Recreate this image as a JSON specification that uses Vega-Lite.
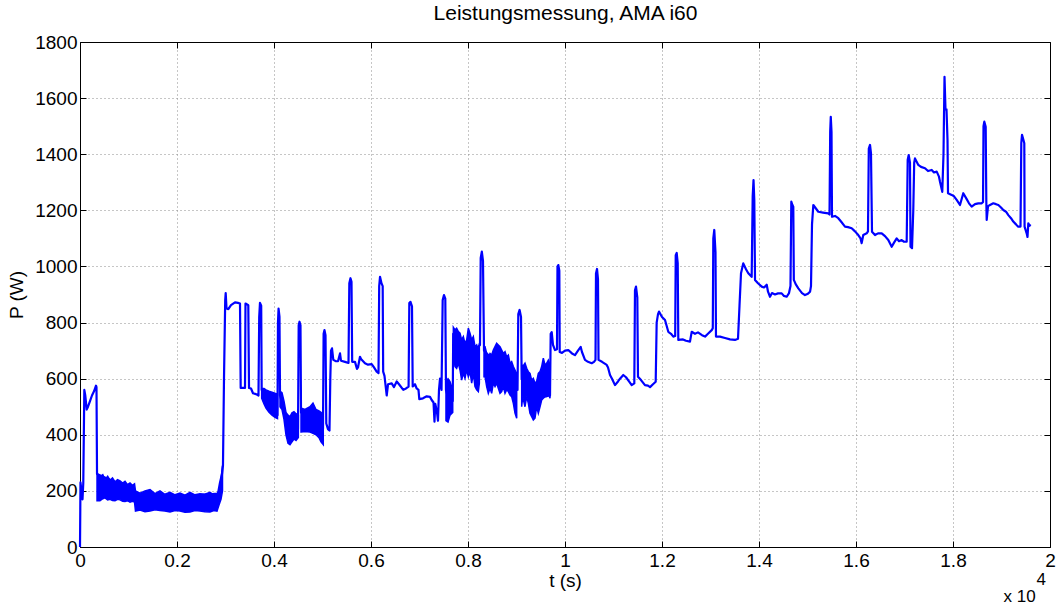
{
  "$schema": "https://vega.github.io/schema/vega-lite/v6.json",
  "width": 970,
  "height": 505,
  "autosize": "none",
  "padding": {"left": 80, "top": 42, "right": 8, "bottom": 59},
  "background": "white",
  "config": {
    "font": "Liberation Sans",
    "view": {"stroke": null},
    "axis": {
      "labelFont": "Liberation Sans",
      "titleFont": "Liberation Sans",
      "labelFontSize": 19,
      "titleFontSize": 19,
      "titleFontWeight": "normal",
      "labelColor": "black",
      "titleColor": "black",
      "domainColor": "black",
      "domainWidth": 1,
      "tickColor": "black",
      "tickWidth": 1,
      "tickSize": -6,
      "gridColor": "#8c8c8c",
      "gridDash": [1, 3],
      "gridWidth": 1,
      "gridOpacity": 1
    }
  },
  "datasets": {
    "bands": [
      {"seg": "b1", "t": 351, "lo": 165, "hi": 265},
      {"seg": "b1", "t": 412, "lo": 165, "hi": 250},
      {"seg": "b1", "t": 470, "lo": 172, "hi": 258},
      {"seg": "b1", "t": 515, "lo": 175, "hi": 240},
      {"seg": "b1", "t": 570, "lo": 168, "hi": 252},
      {"seg": "b1", "t": 619, "lo": 170, "hi": 238},
      {"seg": "b1", "t": 670, "lo": 166, "hi": 246},
      {"seg": "b1", "t": 722, "lo": 165, "hi": 232},
      {"seg": "b1", "t": 775, "lo": 170, "hi": 240},
      {"seg": "b1", "t": 825, "lo": 168, "hi": 236},
      {"seg": "b1", "t": 880, "lo": 163, "hi": 228},
      {"seg": "b1", "t": 928, "lo": 162, "hi": 234},
      {"seg": "b1", "t": 980, "lo": 165, "hi": 222},
      {"seg": "b1", "t": 1031, "lo": 160, "hi": 228},
      {"seg": "b1", "t": 1080, "lo": 163, "hi": 220},
      {"seg": "b1", "t": 1124, "lo": 160, "hi": 225},
      {"seg": "b1", "t": 1144, "lo": 128, "hi": 200},
      {"seg": "b1", "t": 1237, "lo": 132, "hi": 192},
      {"seg": "b1", "t": 1340, "lo": 126, "hi": 200},
      {"seg": "b1", "t": 1443, "lo": 128, "hi": 205},
      {"seg": "b1", "t": 1545, "lo": 133, "hi": 190},
      {"seg": "b1", "t": 1649, "lo": 130, "hi": 200},
      {"seg": "b1", "t": 1750, "lo": 128, "hi": 188},
      {"seg": "b1", "t": 1856, "lo": 125, "hi": 195},
      {"seg": "b1", "t": 1960, "lo": 130, "hi": 186},
      {"seg": "b1", "t": 2062, "lo": 128, "hi": 192},
      {"seg": "b1", "t": 2165, "lo": 124, "hi": 185},
      {"seg": "b1", "t": 2268, "lo": 125, "hi": 195},
      {"seg": "b1", "t": 2370, "lo": 130, "hi": 186},
      {"seg": "b1", "t": 2474, "lo": 128, "hi": 190},
      {"seg": "b1", "t": 2575, "lo": 126, "hi": 188},
      {"seg": "b1", "t": 2680, "lo": 125, "hi": 195},
      {"seg": "b1", "t": 2760, "lo": 130, "hi": 186},
      {"seg": "b1", "t": 2825, "lo": 128, "hi": 190},
      {"seg": "b1", "t": 2866, "lo": 150, "hi": 200},
      {"seg": "b1", "t": 2907, "lo": 170, "hi": 240},
      {"seg": "b1", "t": 2938, "lo": 200, "hi": 290},
      {"seg": "b2", "t": 3746, "lo": 530, "hi": 565},
      {"seg": "b2", "t": 3794, "lo": 510, "hi": 565},
      {"seg": "b2", "t": 3835, "lo": 495, "hi": 560},
      {"seg": "b2", "t": 3897, "lo": 480, "hi": 555},
      {"seg": "b2", "t": 3959, "lo": 470, "hi": 552},
      {"seg": "b2", "t": 4021, "lo": 462, "hi": 548},
      {"seg": "b2", "t": 4072, "lo": 458, "hi": 545},
      {"seg": "b3", "t": 4124, "lo": 500, "hi": 555},
      {"seg": "b3", "t": 4165, "lo": 490, "hi": 550},
      {"seg": "b3", "t": 4206, "lo": 455, "hi": 520},
      {"seg": "b3", "t": 4247, "lo": 400, "hi": 480},
      {"seg": "b3", "t": 4289, "lo": 370, "hi": 470},
      {"seg": "b3", "t": 4330, "lo": 365, "hi": 465},
      {"seg": "b3", "t": 4371, "lo": 375, "hi": 478},
      {"seg": "b3", "t": 4412, "lo": 385, "hi": 482},
      {"seg": "b3", "t": 4454, "lo": 380, "hi": 475},
      {"seg": "b3", "t": 4502, "lo": 390, "hi": 470},
      {"seg": "b4", "t": 4557, "lo": 410, "hi": 495},
      {"seg": "b4", "t": 4639, "lo": 412, "hi": 490},
      {"seg": "b4", "t": 4742, "lo": 410, "hi": 500},
      {"seg": "b4", "t": 4804, "lo": 405, "hi": 513},
      {"seg": "b4", "t": 4866, "lo": 400, "hi": 490},
      {"seg": "b4", "t": 4928, "lo": 390, "hi": 485},
      {"seg": "b4", "t": 4969, "lo": 375, "hi": 480},
      {"seg": "b4", "t": 5016, "lo": 365, "hi": 470},
      {"seg": "b5", "t": 7546, "lo": 450, "hi": 590},
      {"seg": "b5", "t": 7588, "lo": 445, "hi": 600},
      {"seg": "b5", "t": 7629, "lo": 470, "hi": 590},
      {"seg": "b5", "t": 7685, "lo": 480, "hi": 560},
      {"seg": "b6", "t": 7698, "lo": 690, "hi": 783},
      {"seg": "b6", "t": 7732, "lo": 643, "hi": 774},
      {"seg": "b6", "t": 7766, "lo": 637, "hi": 780},
      {"seg": "b6", "t": 7801, "lo": 655, "hi": 768},
      {"seg": "b6", "t": 7835, "lo": 631, "hi": 762},
      {"seg": "b6", "t": 7869, "lo": 595, "hi": 738},
      {"seg": "b6", "t": 7904, "lo": 619, "hi": 750},
      {"seg": "b6", "t": 7938, "lo": 601, "hi": 726},
      {"seg": "b6", "t": 7973, "lo": 631, "hi": 738},
      {"seg": "b6", "t": 8007, "lo": 607, "hi": 780},
      {"seg": "b6", "t": 8041, "lo": 625, "hi": 762},
      {"seg": "b6", "t": 8076, "lo": 584, "hi": 738},
      {"seg": "b6", "t": 8110, "lo": 619, "hi": 750},
      {"seg": "b6", "t": 8144, "lo": 572, "hi": 714},
      {"seg": "b6", "t": 8179, "lo": 560, "hi": 720},
      {"seg": "b6", "t": 8213, "lo": 554, "hi": 702},
      {"seg": "b6", "t": 8234, "lo": 584, "hi": 726},
      {"seg": "b7", "t": 8330, "lo": 607, "hi": 714},
      {"seg": "b7", "t": 8351, "lo": 607, "hi": 714},
      {"seg": "b7", "t": 8385, "lo": 572, "hi": 690},
      {"seg": "b7", "t": 8419, "lo": 548, "hi": 678},
      {"seg": "b7", "t": 8454, "lo": 566, "hi": 690},
      {"seg": "b7", "t": 8488, "lo": 548, "hi": 684},
      {"seg": "b7", "t": 8522, "lo": 584, "hi": 702},
      {"seg": "b7", "t": 8557, "lo": 572, "hi": 714},
      {"seg": "b7", "t": 8591, "lo": 584, "hi": 726},
      {"seg": "b7", "t": 8625, "lo": 566, "hi": 720},
      {"seg": "b7", "t": 8660, "lo": 548, "hi": 714},
      {"seg": "b7", "t": 8694, "lo": 554, "hi": 702},
      {"seg": "b7", "t": 8728, "lo": 572, "hi": 690},
      {"seg": "b7", "t": 8763, "lo": 548, "hi": 696},
      {"seg": "b7", "t": 8797, "lo": 560, "hi": 678},
      {"seg": "b7", "t": 8832, "lo": 554, "hi": 684},
      {"seg": "b7", "t": 8866, "lo": 542, "hi": 655},
      {"seg": "b7", "t": 8900, "lo": 536, "hi": 661},
      {"seg": "b7", "t": 8935, "lo": 512, "hi": 643},
      {"seg": "b7", "t": 8969, "lo": 477, "hi": 631},
      {"seg": "b7", "t": 9004, "lo": 459, "hi": 619},
      {"seg": "b8", "t": 9107, "lo": 500, "hi": 650},
      {"seg": "b8", "t": 9127, "lo": 536, "hi": 643},
      {"seg": "b8", "t": 9175, "lo": 500, "hi": 655},
      {"seg": "b8", "t": 9210, "lo": 536, "hi": 637},
      {"seg": "b8", "t": 9244, "lo": 512, "hi": 625},
      {"seg": "b8", "t": 9278, "lo": 477, "hi": 619},
      {"seg": "b8", "t": 9313, "lo": 465, "hi": 595},
      {"seg": "b8", "t": 9347, "lo": 453, "hi": 601},
      {"seg": "b8", "t": 9381, "lo": 459, "hi": 584},
      {"seg": "b8", "t": 9416, "lo": 500, "hi": 590},
      {"seg": "b8", "t": 9450, "lo": 477, "hi": 619},
      {"seg": "b8", "t": 9485, "lo": 500, "hi": 625},
      {"seg": "b8", "t": 9519, "lo": 524, "hi": 643},
      {"seg": "b8", "t": 9553, "lo": 530, "hi": 673},
      {"seg": "b8", "t": 9588, "lo": 536, "hi": 649},
      {"seg": "b8", "t": 9622, "lo": 536, "hi": 655},
      {"seg": "b8", "t": 9656, "lo": 548, "hi": 666},
      {"seg": "b8", "t": 9691, "lo": 530, "hi": 649}
    ],
    "trace": [
      {"t": 0, "P": 0}, {"t": 10, "P": 230}, {"t": 31, "P": 200}, {"t": 52, "P": 170},
      {"t": 68, "P": 230}, {"t": 89, "P": 560}, {"t": 109, "P": 540}, {"t": 138, "P": 490},
      {"t": 165, "P": 500}, {"t": 206, "P": 520}, {"t": 247, "P": 540}, {"t": 289, "P": 555},
      {"t": 330, "P": 575}, {"t": 340, "P": 570}, {"t": 351, "P": 260}, {"t": 1134, "P": 200},
      {"t": 1155, "P": 165}, {"t": 2845, "P": 190}, {"t": 2887, "P": 230}, {"t": 2928, "P": 260},
      {"t": 2948, "P": 290}, {"t": 2969, "P": 600}, {"t": 2994, "P": 880}, {"t": 3004, "P": 905},
      {"t": 3021, "P": 850}, {"t": 3058, "P": 848}, {"t": 3113, "P": 862}, {"t": 3196, "P": 872},
      {"t": 3258, "P": 870}, {"t": 3299, "P": 868}, {"t": 3313, "P": 567}, {"t": 3402, "P": 567},
      {"t": 3412, "P": 868}, {"t": 3470, "P": 862}, {"t": 3485, "P": 567}, {"t": 3526, "P": 565},
      {"t": 3567, "P": 548}, {"t": 3629, "P": 545}, {"t": 3680, "P": 540}, {"t": 3695, "P": 820},
      {"t": 3711, "P": 870}, {"t": 3736, "P": 860}, {"t": 3746, "P": 560}, {"t": 3897, "P": 520},
      {"t": 4072, "P": 470}, {"t": 4082, "P": 800}, {"t": 4094, "P": 850}, {"t": 4113, "P": 820},
      {"t": 4124, "P": 540}, {"t": 4309, "P": 420}, {"t": 4495, "P": 420}, {"t": 4509, "P": 790},
      {"t": 4526, "P": 803}, {"t": 4546, "P": 790}, {"t": 4557, "P": 480}, {"t": 4784, "P": 450},
      {"t": 5010, "P": 420}, {"t": 5023, "P": 760}, {"t": 5041, "P": 773}, {"t": 5062, "P": 755},
      {"t": 5078, "P": 440}, {"t": 5113, "P": 420}, {"t": 5144, "P": 415}, {"t": 5161, "P": 600},
      {"t": 5175, "P": 700}, {"t": 5196, "P": 708}, {"t": 5223, "P": 667}, {"t": 5278, "P": 662},
      {"t": 5320, "P": 662}, {"t": 5361, "P": 690}, {"t": 5381, "P": 664}, {"t": 5464, "P": 660},
      {"t": 5536, "P": 656}, {"t": 5553, "P": 940}, {"t": 5577, "P": 958}, {"t": 5598, "P": 945},
      {"t": 5612, "P": 660}, {"t": 5670, "P": 660}, {"t": 5711, "P": 635}, {"t": 5732, "P": 640},
      {"t": 5773, "P": 678}, {"t": 5794, "P": 670}, {"t": 5876, "P": 655}, {"t": 5938, "P": 650},
      {"t": 6014, "P": 652}, {"t": 6062, "P": 640}, {"t": 6117, "P": 625}, {"t": 6155, "P": 620},
      {"t": 6169, "P": 930}, {"t": 6186, "P": 963}, {"t": 6216, "P": 940}, {"t": 6241, "P": 930},
      {"t": 6251, "P": 625}, {"t": 6278, "P": 610}, {"t": 6324, "P": 540}, {"t": 6351, "P": 580},
      {"t": 6427, "P": 583}, {"t": 6474, "P": 570}, {"t": 6530, "P": 590}, {"t": 6577, "P": 580},
      {"t": 6666, "P": 560}, {"t": 6722, "P": 565}, {"t": 6775, "P": 572}, {"t": 6790, "P": 870},
      {"t": 6814, "P": 874}, {"t": 6845, "P": 858}, {"t": 6860, "P": 572}, {"t": 6907, "P": 580},
      {"t": 6942, "P": 565}, {"t": 6979, "P": 560}, {"t": 6996, "P": 527}, {"t": 7072, "P": 530},
      {"t": 7148, "P": 537}, {"t": 7216, "P": 535}, {"t": 7251, "P": 524}, {"t": 7289, "P": 515},
      {"t": 7309, "P": 447}, {"t": 7326, "P": 510}, {"t": 7361, "P": 480}, {"t": 7381, "P": 450},
      {"t": 7402, "P": 560}, {"t": 7423, "P": 600}, {"t": 7454, "P": 560}, {"t": 7478, "P": 880},
      {"t": 7505, "P": 898}, {"t": 7532, "P": 885}, {"t": 7546, "P": 560}, {"t": 7608, "P": 520},
      {"t": 7685, "P": 520}, {"t": 7695, "P": 760}, {"t": 7959, "P": 670}, {"t": 8247, "P": 720},
      {"t": 8262, "P": 1030}, {"t": 8285, "P": 1053}, {"t": 8309, "P": 1020}, {"t": 8330, "P": 700},
      {"t": 8660, "P": 640}, {"t": 9021, "P": 560}, {"t": 9037, "P": 830}, {"t": 9064, "P": 845},
      {"t": 9093, "P": 820}, {"t": 9107, "P": 600}, {"t": 9381, "P": 530}, {"t": 9691, "P": 540},
      {"t": 9705, "P": 760}, {"t": 9726, "P": 766}, {"t": 9753, "P": 720}, {"t": 9794, "P": 702},
      {"t": 9835, "P": 705}, {"t": 9845, "P": 1000}, {"t": 9862, "P": 1005}, {"t": 9883, "P": 985},
      {"t": 9891, "P": 695}, {"t": 9938, "P": 692}, {"t": 10000, "P": 700}, {"t": 10068, "P": 702},
      {"t": 10144, "P": 690}, {"t": 10206, "P": 684}, {"t": 10268, "P": 700}, {"t": 10324, "P": 713},
      {"t": 10350, "P": 695}, {"t": 10412, "P": 667}, {"t": 10474, "P": 660}, {"t": 10550, "P": 655},
      {"t": 10598, "P": 660}, {"t": 10629, "P": 667}, {"t": 10639, "P": 975}, {"t": 10660, "P": 991},
      {"t": 10680, "P": 955}, {"t": 10691, "P": 667}, {"t": 10763, "P": 660}, {"t": 10860, "P": 649},
      {"t": 10887, "P": 640}, {"t": 10928, "P": 613}, {"t": 10969, "P": 600}, {"t": 11031, "P": 577},
      {"t": 11093, "P": 590}, {"t": 11134, "P": 600}, {"t": 11202, "P": 613}, {"t": 11258, "P": 605},
      {"t": 11320, "P": 590}, {"t": 11375, "P": 577}, {"t": 11429, "P": 583}, {"t": 11443, "P": 915},
      {"t": 11464, "P": 928}, {"t": 11491, "P": 890}, {"t": 11505, "P": 607}, {"t": 11567, "P": 595},
      {"t": 11649, "P": 577}, {"t": 11711, "P": 575}, {"t": 11753, "P": 570}, {"t": 11814, "P": 580},
      {"t": 11870, "P": 589}, {"t": 11890, "P": 800}, {"t": 11918, "P": 830}, {"t": 11938, "P": 839},
      {"t": 12000, "P": 820}, {"t": 12062, "P": 809}, {"t": 12130, "P": 767}, {"t": 12186, "P": 760},
      {"t": 12233, "P": 750}, {"t": 12272, "P": 752}, {"t": 12283, "P": 1040}, {"t": 12303, "P": 1048},
      {"t": 12324, "P": 1012}, {"t": 12336, "P": 738}, {"t": 12433, "P": 740}, {"t": 12495, "P": 735},
      {"t": 12577, "P": 732}, {"t": 12612, "P": 767}, {"t": 12680, "P": 760}, {"t": 12742, "P": 765},
      {"t": 12825, "P": 755}, {"t": 12887, "P": 750}, {"t": 12948, "P": 760}, {"t": 13025, "P": 773},
      {"t": 13047, "P": 780}, {"t": 13058, "P": 1100}, {"t": 13078, "P": 1130}, {"t": 13103, "P": 1050},
      {"t": 13113, "P": 750}, {"t": 13196, "P": 750}, {"t": 13299, "P": 745}, {"t": 13402, "P": 740},
      {"t": 13505, "P": 738}, {"t": 13567, "P": 742}, {"t": 13598, "P": 860}, {"t": 13629, "P": 976},
      {"t": 13676, "P": 1011}, {"t": 13732, "P": 990}, {"t": 13779, "P": 976}, {"t": 13849, "P": 963},
      {"t": 13870, "P": 1250}, {"t": 13887, "P": 1308}, {"t": 13903, "P": 1237}, {"t": 13918, "P": 952},
      {"t": 13979, "P": 940}, {"t": 14056, "P": 928}, {"t": 14103, "P": 925}, {"t": 14159, "P": 935},
      {"t": 14186, "P": 910}, {"t": 14227, "P": 892}, {"t": 14268, "P": 905}, {"t": 14330, "P": 900},
      {"t": 14392, "P": 904}, {"t": 14468, "P": 904}, {"t": 14515, "P": 895}, {"t": 14571, "P": 892},
      {"t": 14619, "P": 905}, {"t": 14649, "P": 930}, {"t": 14666, "P": 1231}, {"t": 14687, "P": 1220},
      {"t": 14707, "P": 1213}, {"t": 14718, "P": 952}, {"t": 14763, "P": 935}, {"t": 14811, "P": 922},
      {"t": 14887, "P": 905}, {"t": 14948, "P": 898}, {"t": 15010, "P": 903}, {"t": 15052, "P": 910},
      {"t": 15072, "P": 930}, {"t": 15093, "P": 1150}, {"t": 15120, "P": 1219}, {"t": 15223, "P": 1195},
      {"t": 15320, "P": 1192}, {"t": 15429, "P": 1189}, {"t": 15454, "P": 1185}, {"t": 15468, "P": 1480},
      {"t": 15480, "P": 1533}, {"t": 15495, "P": 1480}, {"t": 15505, "P": 1177}, {"t": 15567, "P": 1180},
      {"t": 15635, "P": 1172}, {"t": 15691, "P": 1160}, {"t": 15773, "P": 1142}, {"t": 15835, "P": 1140},
      {"t": 15911, "P": 1136}, {"t": 15979, "P": 1125}, {"t": 16047, "P": 1112}, {"t": 16093, "P": 1100},
      {"t": 16117, "P": 1083}, {"t": 16150, "P": 1112}, {"t": 16220, "P": 1118}, {"t": 16247, "P": 1125},
      {"t": 16264, "P": 1420}, {"t": 16289, "P": 1433}, {"t": 16309, "P": 1403}, {"t": 16330, "P": 1124},
      {"t": 16392, "P": 1112}, {"t": 16454, "P": 1118}, {"t": 16530, "P": 1118}, {"t": 16598, "P": 1108},
      {"t": 16666, "P": 1094}, {"t": 16736, "P": 1070}, {"t": 16784, "P": 1085}, {"t": 16839, "P": 1100},
      {"t": 16887, "P": 1090}, {"t": 16942, "P": 1094}, {"t": 16990, "P": 1088}, {"t": 17045, "P": 1088},
      {"t": 17066, "P": 1380}, {"t": 17087, "P": 1397}, {"t": 17113, "P": 1370}, {"t": 17124, "P": 1070},
      {"t": 17155, "P": 1065}, {"t": 17181, "P": 1200}, {"t": 17200, "P": 1370}, {"t": 17216, "P": 1385},
      {"t": 17285, "P": 1362}, {"t": 17340, "P": 1355}, {"t": 17423, "P": 1350}, {"t": 17485, "P": 1340},
      {"t": 17561, "P": 1344}, {"t": 17608, "P": 1335}, {"t": 17664, "P": 1338}, {"t": 17711, "P": 1320},
      {"t": 17732, "P": 1302}, {"t": 17779, "P": 1266}, {"t": 17804, "P": 1400}, {"t": 17825, "P": 1676},
      {"t": 17845, "P": 1560}, {"t": 17866, "P": 1560}, {"t": 17887, "P": 1450}, {"t": 17897, "P": 1261},
      {"t": 17973, "P": 1255}, {"t": 18021, "P": 1250}, {"t": 18076, "P": 1237}, {"t": 18144, "P": 1219},
      {"t": 18212, "P": 1261}, {"t": 18282, "P": 1240}, {"t": 18330, "P": 1225}, {"t": 18385, "P": 1213},
      {"t": 18454, "P": 1222}, {"t": 18522, "P": 1225}, {"t": 18592, "P": 1225}, {"t": 18619, "P": 1230},
      {"t": 18629, "P": 1500}, {"t": 18646, "P": 1516}, {"t": 18674, "P": 1498}, {"t": 18687, "P": 1230},
      {"t": 18695, "P": 1166}, {"t": 18722, "P": 1215}, {"t": 18763, "P": 1219}, {"t": 18831, "P": 1225},
      {"t": 18887, "P": 1222}, {"t": 18935, "P": 1219}, {"t": 18990, "P": 1210}, {"t": 19037, "P": 1201},
      {"t": 19093, "P": 1195}, {"t": 19141, "P": 1183}, {"t": 19196, "P": 1172}, {"t": 19243, "P": 1160},
      {"t": 19299, "P": 1150}, {"t": 19340, "P": 1142}, {"t": 19392, "P": 1142}, {"t": 19408, "P": 1440},
      {"t": 19423, "P": 1469}, {"t": 19454, "P": 1450}, {"t": 19470, "P": 1439}, {"t": 19476, "P": 1142},
      {"t": 19519, "P": 1118}, {"t": 19536, "P": 1105}, {"t": 19553, "P": 1154}, {"t": 19577, "P": 1145},
      {"t": 19598, "P": 1150}
    ]
  },
  "layer": [
    {
      "data": {"name": "bands"},
      "mark": {"type": "area", "color": "#0000ff", "stroke": "#0000ff", "strokeWidth": 1.5, "opacity": 1},
      "encoding": {
        "x": {
          "field": "t", "type": "quantitative",
          "scale": {"domain": [0, 20000], "nice": false, "zero": false},
          "axis": {
            "orient": "bottom",
            "values": [0, 2000, 4000, 6000, 8000, 10000, 12000, 14000, 16000, 18000, 20000],
            "labelExpr": "format(datum.value / 10000, '~g')",
            "labelFlush": false,
            "labelPadding": 10,
            "grid": true,
            "title": "t (s)",
            "titleX": 485,
            "titleY": 33,
            "titleBaseline": "middle",
            "titleAnchor": null
          }
        },
        "y": {
          "field": "lo", "type": "quantitative",
          "scale": {"domain": [0, 1800], "nice": false, "zero": false},
          "axis": {
            "orient": "left",
            "values": [0, 200, 400, 600, 800, 1000, 1200, 1400, 1600, 1800],
            "format": "d",
            "labelFlush": false,
            "labelPadding": 9,
            "grid": true,
            "title": "P (W)",
            "titleX": -64,
            "titleY": 252.5,
            "titleBaseline": "middle",
            "titleAnchor": null
          }
        },
        "y2": {"field": "hi"},
        "detail": {"field": "seg"}
      }
    },
    {
      "data": {"name": "trace"},
      "mark": {"type": "line", "color": "#0000ff", "strokeWidth": 2.2, "strokeJoin": "round"},
      "encoding": {
        "x": {
          "field": "t", "type": "quantitative",
          "axis": {
            "orient": "top",
            "values": [0, 2000, 4000, 6000, 8000, 10000, 12000, 14000, 16000, 18000, 20000],
            "labels": false,
            "grid": false,
            "zindex": 1,
            "title": "Leistungsmessung, AMA i60",
            "titleFontSize": 21,
            "titleX": 485,
            "titleY": -23,
            "titleAlign": "center",
            "titleBaseline": "alphabetic",
            "titleAnchor": null
          }
        },
        "y": {
          "field": "P", "type": "quantitative",
          "axis": {
            "orient": "right",
            "values": [0, 200, 400, 600, 800, 1000, 1200, 1400, 1600, 1800],
            "labels": false,
            "grid": false,
            "zindex": 1,
            "title": ["\u200b\u00a0\u00a0\u00a0\u00a0\u00a0\u00a0\u00a04", "x 10"],
            "titleFontSize": 17,
            "titleLineHeight": 17,
            "titleAngle": 0,
            "titleX": -47,
            "titleY": 542,
            "titleAlign": "left",
            "titleBaseline": "alphabetic",
            "titleAnchor": null
          }
        }
      }
    }
  ],
  "resolve": {"axis": {"x": "independent", "y": "independent"}}
}
